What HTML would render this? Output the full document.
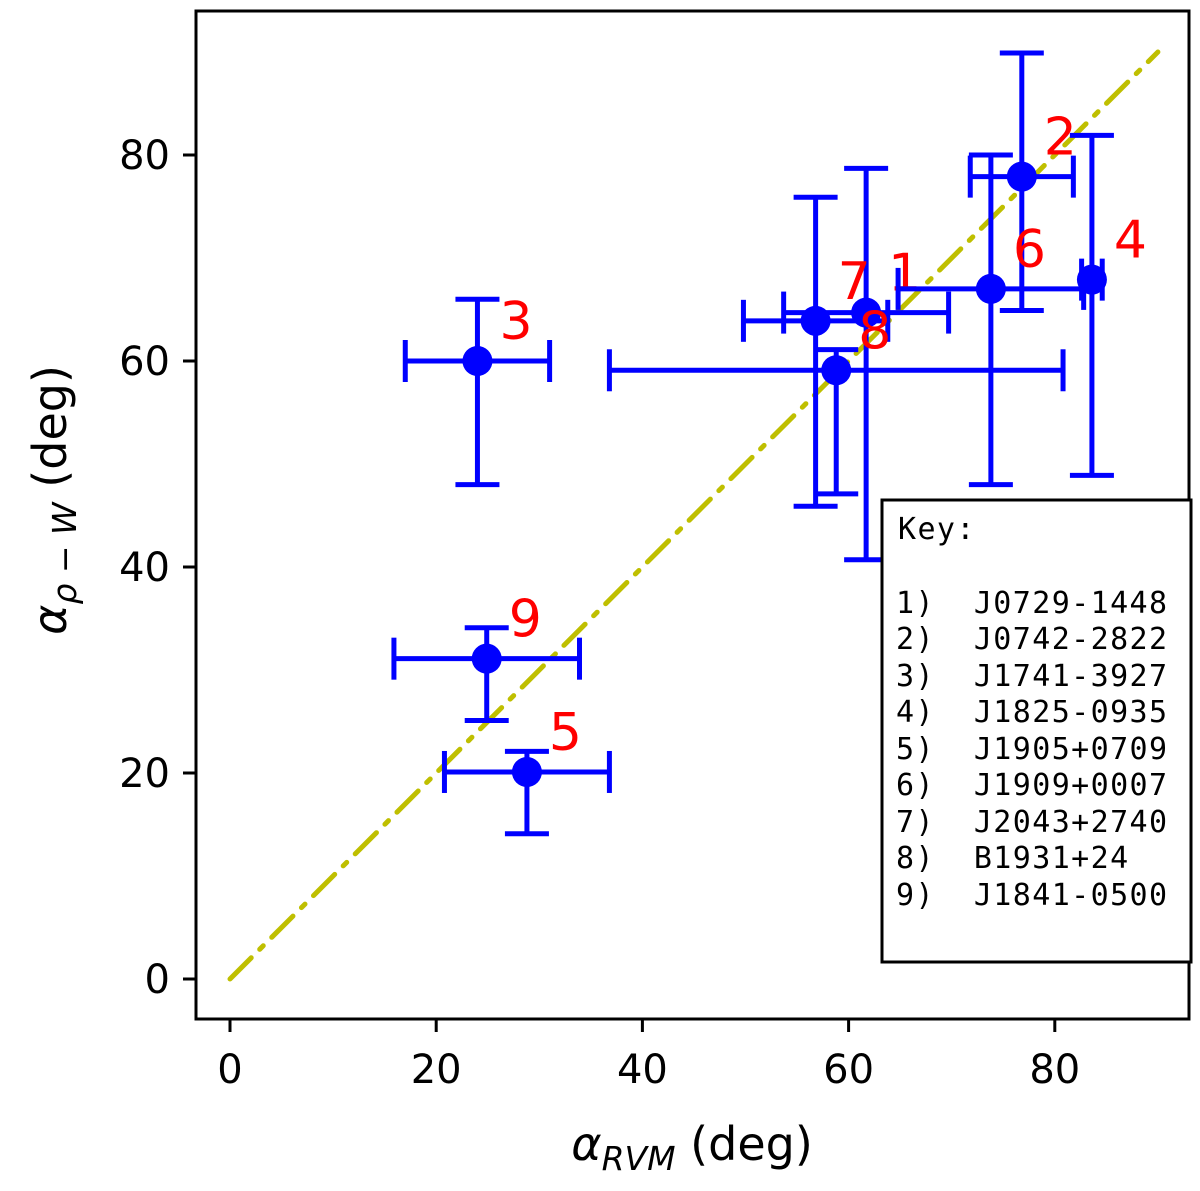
<!DOCTYPE html>
<html><head><meta charset="utf-8"><style>
body{margin:0;background:#fff}
svg{display:block}
text{font-family:"DejaVu Sans","Liberation Sans",sans-serif}
text.mono{font-family:"DejaVu Sans Mono","Liberation Mono",monospace;letter-spacing:1.4px}
</style></head><body>
<svg id="chart" width="1200" height="1191" xmlns="http://www.w3.org/2000/svg">
<rect x="196" y="11" width="993" height="1008" fill="none" stroke="#000" stroke-width="3"/>
<g id="ticks"></g>
<line id="diag" stroke="#bfbf00" stroke-width="5" stroke-dasharray="30,12,5,12" stroke-linecap="round"/>
<g id="marks"></g>
<g>
<rect x="882" y="500" width="309" height="462" fill="#fff" stroke="#000" stroke-width="3"/>
<g font-size="30" fill="#000">
<text class="mono" x="898" y="539">Key:</text>
<text class="mono" x="896" y="613" xml:space="preserve">1)  J0729-1448</text>
<text class="mono" x="896" y="649" xml:space="preserve">2)  J0742-2822</text>
<text class="mono" x="896" y="686" xml:space="preserve">3)  J1741-3927</text>
<text class="mono" x="896" y="722" xml:space="preserve">4)  J1825-0935</text>
<text class="mono" x="896" y="759" xml:space="preserve">5)  J1905+0709</text>
<text class="mono" x="896" y="795" xml:space="preserve">6)  J1909+0007</text>
<text class="mono" x="896" y="832" xml:space="preserve">7)  J2043+2740</text>
<text class="mono" x="896" y="868" xml:space="preserve">8)  B1931+24</text>
<text class="mono" x="896" y="905" xml:space="preserve">9)  J1841-0500</text>
</g></g>
<text x="692" y="1160" text-anchor="middle" font-size="46"><tspan font-style="italic">α</tspan><tspan font-style="italic" font-size="33" dy="10">RVM</tspan><tspan dy="-10"> (deg)</tspan></text>
<text transform="translate(66,500) rotate(-90)" text-anchor="middle" font-size="46"><tspan font-style="italic">α</tspan><tspan font-style="italic" font-size="33" dy="10">ρ − W</tspan><tspan dy="-10"> (deg)</tspan></text>
</svg>
<script>
const labels=["1","2","3","4","5","6","7","8","9"];
const xVals=[61.7,76.8,24,83.6,28.8,73.8,56.8,58.8,24.9];
const yVals=[64.7,77.9,60,67.9,20.1,67,63.9,59.1,31.1];
const xErrLo=[8,5,7,1,8,9,7,22,9];
const xErrHi=[8,5,7,1,8,9,7,22,9];
const yErrLo=[24,13,12,19,6,19,18,12,6];
const yErrHi=[14,12,6,14,2,13,12,2,3];
const xTicks=[0,20,40,60,80];
const yTicks=[0,20,40,60,80];
const diagRange=[0,90];
const X=v=>230+v*10.31, Y=v=>979-v*10.3;
const NS="http://www.w3.org/2000/svg";
function mk(t,a,p){const e=document.createElementNS(NS,t);for(const k in a)e.setAttribute(k,a[k]);p.appendChild(e);return e;}
const tk=document.getElementById('ticks');
xTicks.forEach(v=>{
 const l=mk('line',{x1:X(v),x2:X(v),y1:1019,y2:1032,stroke:'#000','stroke-width':3},tk);
 
 
 const t=mk('text',{x:X(v),y:1083,'text-anchor':'middle','font-size':40},tk);t.textContent=v;
 
 
});
yTicks.forEach(v=>{
 const l=mk('line',{x1:183,x2:196,y1:Y(v),y2:Y(v),stroke:'#000','stroke-width':3},tk);
 
 
 const t=mk('text',{x:170,y:Y(v)+14,'text-anchor':'end','font-size':40},tk);t.textContent=v;
 
 
});
const d=document.getElementById('diag');
d.setAttribute('x1',X(diagRange[0]));d.setAttribute('y1',Y(diagRange[0]));
d.setAttribute('x2',X(diagRange[1]));d.setAttribute('y2',Y(diagRange[1]));
const mg=document.getElementById('marks');
const bc='#0000ff';
labels.forEach((lb,i)=>{
 const g=mk('g',{},mg);
 
 
 const cx=X(xVals[i]),cy=Y(yVals[i]);
 const x0=X(xVals[i]-xErrLo[i]),x1=X(xVals[i]+xErrHi[i]);
 const y0=Y(yVals[i]-yErrLo[i]),y1=Y(yVals[i]+yErrHi[i]);
 const s={stroke:bc,'stroke-width':5};
 mk('line',Object.assign({x1:x0,x2:x1,y1:cy,y2:cy},s),g);
 mk('line',Object.assign({x1:x0,x2:x0,y1:cy-21,y2:cy+21},s),g);
 mk('line',Object.assign({x1:x1,x2:x1,y1:cy-21,y2:cy+21},s),g);
 mk('line',Object.assign({x1:cx,x2:cx,y1:y0,y2:y1},s),g);
 mk('line',Object.assign({x1:cx-22,x2:cx+22,y1:y0,y2:y0},s),g);
 mk('line',Object.assign({x1:cx-22,x2:cx+22,y1:y1,y2:y1},s),g);
 mk('circle',{cx:cx,cy:cy,r:15,fill:bc},g);
 const t=mk('text',{x:cx+22,y:cy-22,'font-size':52,fill:'#ff0000'},g);t.textContent=lb;
 
 
});
</script>
</body></html>
